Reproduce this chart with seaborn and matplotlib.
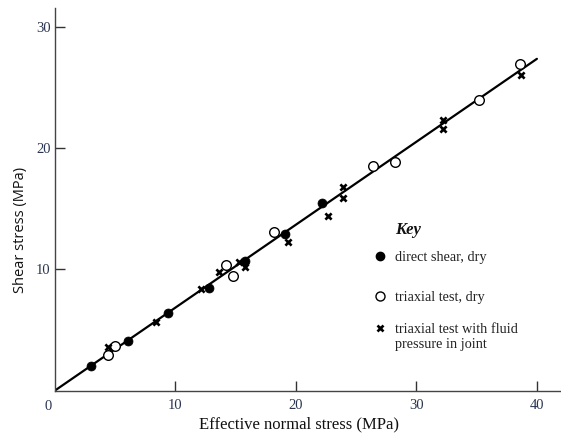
import matplotlib
matplotlib.use("Agg")
import matplotlib.pyplot as plt
import seaborn as sns
import pandas as pd
from matplotlib.lines import Line2D

# ---- data ----
filled_x = [3.0, 6.1, 9.35, 12.8, 15.8, 19.1, 22.2]
filled_y = [2.05, 4.1, 6.4, 8.5, 10.7, 12.9, 15.5]

open_x = [4.4, 5.0, 14.2, 14.75, 18.2, 26.4, 28.2, 35.2, 38.6]
open_y = [2.9, 3.7, 10.4, 9.5, 13.1, 18.55, 18.9, 24.0, 27.0]

cross_x = [4.4, 8.4, 12.1, 13.6, 15.3, 15.8, 19.3, 22.7, 23.9, 23.9, 32.2, 32.2, 38.7]
cross_y = [3.6, 5.7, 8.35, 9.75, 10.6, 10.2, 12.25, 14.4, 16.85, 15.9, 22.35, 21.6, 26.1]

line_x = [0, 10, 20, 30, 40]
line_y = [0, 6.85, 13.7, 20.55, 27.4]

x_ticks = [10, 20, 30, 40]
y_ticks = [10, 20, 30]

labels = ["direct shear, dry", "triaxial test, dry",
          "triaxial test with fluid", "pressure in joint"]

sns.set_theme(style="white")
plt.rcParams['font.family'] = ['Liberation Serif', 'DejaVu Serif']
plt.rcParams['xtick.direction'] = 'in'
plt.rcParams['ytick.direction'] = 'in'

fig = plt.figure(figsize=(5.61, 4.37), dpi=100)
ax = fig.add_axes([0.098, 0.1064, 0.902, 0.8753])

tick_col = "#2a3550"

sns.lineplot(x=line_x, y=line_y, ax=ax, color="black", lw=1.6)
sns.scatterplot(x=filled_x, y=filled_y, ax=ax, marker="o", s=42,
                color="black", edgecolor="black", linewidth=0.5, zorder=3)
sns.scatterplot(x=open_x, y=open_y, ax=ax, marker="o", s=48,
                facecolor="white", edgecolor="black", linewidth=1.0, zorder=3)
sns.scatterplot(x=cross_x, y=cross_y, ax=ax, marker="x", s=20,
                color="black", linewidth=1.9, zorder=3)

ax.set_xlim(0, 42)
ax.set_ylim(0, 31.6)
ax.set_xticks(x_ticks)
ax.set_yticks(y_ticks)
ax.set_xticklabels([str(t) for t in x_ticks])
ax.set_yticklabels([str(t) for t in y_ticks])
ax.tick_params(axis="both", direction="in", length=7, width=1.0,
               colors="#333333", labelcolor=tick_col, labelsize=10.5, pad=3,
               bottom=True, left=True)
ax.tick_params(axis="x", pad=6)
ax.text(-0.6, -0.75, "0", ha="center", va="top", fontsize=10.5, color=tick_col)

for s in ["top", "right"]:
    ax.spines[s].set_visible(False)
for s in ["left", "bottom"]:
    ax.spines[s].set_color("#444444")
    ax.spines[s].set_linewidth(1.0)

ax.set_xlabel("Effective normal stress (MPa)", fontsize=12, color="#111111")
ax.xaxis.set_label_coords(0.482, -0.0876)
ax.xaxis.label.set_va("center")
ax.set_ylabel("Shear stress (MPa)", fontsize=10.5, color="#111111",
              family=["Open Sans", "DejaVu Sans"])
ax.yaxis.set_label_coords(-0.069, 0.42)
ax.yaxis.label.set_va("center")

h_filled = Line2D([], [], ls="none", marker="o", ms=6, mfc="black", mec="black")
h_open = Line2D([], [], ls="none", marker="o", ms=6.5, mfc="white", mec="black", mew=1.0)
h_cross = Line2D([], [], ls="none", marker="x", ms=4.5, mec="black", mew=1.9)
h_blank = Line2D([], [], ls="none", marker=None)

common = dict(loc="upper left", frameon=False, handletextpad=0.6,
              handlelength=1.0, prop={"size": 10.3})
leg1 = ax.legend([h_filled, h_open], labels[:2],
                 bbox_to_anchor=(0.602, 0.398), labelspacing=1.86, **common)
ax.add_artist(leg1)
leg2 = ax.legend([h_cross, h_blank], labels[2:],
                 bbox_to_anchor=(0.602, 0.2097), labelspacing=0.1, **common)
for leg in (leg1, leg2):
    for t in leg.get_texts():
        t.set_color("#222222")
ax.text(0.672, 0.42, "Key", transform=ax.transAxes, ha="left", va="center",
        fontsize=12, fontweight="bold", fontstyle="italic", color="#111111")

fig.savefig("out.png", dpi=100)
